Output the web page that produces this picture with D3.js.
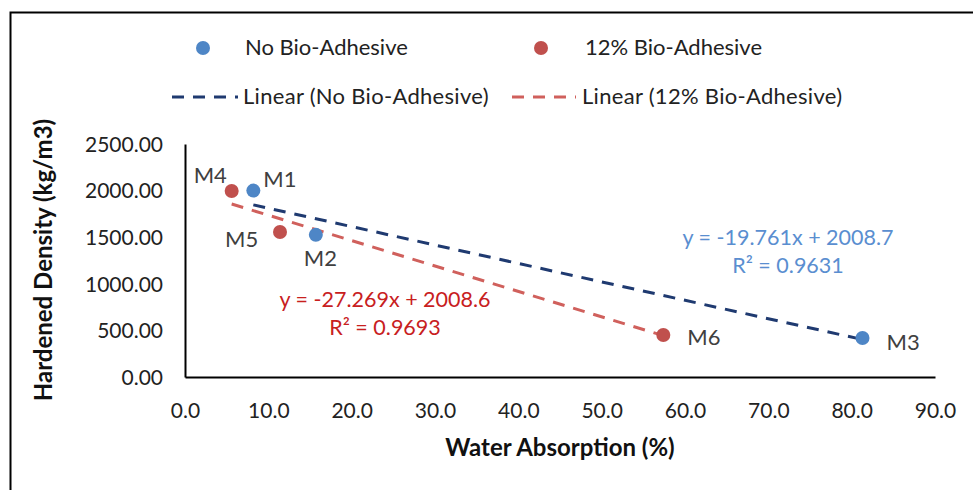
<!DOCTYPE html>
<html><head><meta charset="utf-8">
<script src="https://cdn.jsdelivr.net/npm/d3@7"></script>
<style>
body{margin:0;background:#fff;}
svg text{font-family:"Lato",sans-serif;}
</style></head>
<body><svg id="c" width="973" height="490"></svg>
<script>
// ---- data ----
const seriesNames = ["No Bio-Adhesive", "12% Bio-Adhesive"];
const trendNames = ["Linear (No Bio-Adhesive)", "Linear (12% Bio-Adhesive)"];
const noBioLabels = ["M1", "M2", "M3"];
const noBioX = [8.2, 15.7, 81.3];
const noBioY = [2000, 1525, 418];
const bioLabels = ["M4", "M5", "M6"];
const bioX = [5.6, 11.4, 57.4];
const bioY = [1995, 1555, 450];
const slopes = [-19.761, -27.269];
const intercepts = [2008.7, 2008.6];
const r2 = ["0.9631", "0.9693"];
const xTicks = [0,10,20,30,40,50,60,70,80,90];
const yTicks = [0,500,1000,1500,2000,2500];

const colors = {dotBlue:"#4e86c6", dotRed:"#c0504d", lineBlue:"#1f3a70", lineRed:"#d0605c",
  eqBlue:"#5a8ed0", eqRed:"#c8201e", text:"#404040"};
const FS = 22;

const svg = d3.select("#c");
// outer frame
svg.append("rect").attr("x",10.5).attr("y",12.5).attr("width",1000).attr("height",600)
  .attr("fill","none").attr("stroke","#000").attr("stroke-width",2);

const x = d3.scaleLinear().domain([0,90]).range([185,935]);
const y = d3.scaleLinear().domain([0,2500]).range([377,144]);

// axes
const xAxis = svg.append("g").attr("transform","translate(0,377)")
  .call(d3.axisBottom(x).tickValues(xTicks).tickSize(0).tickFormat(d3.format(".1f")));
const yAxis = svg.append("g").attr("transform","translate(185,0)")
  .call(d3.axisLeft(y).tickValues(yTicks).tickSize(0).tickFormat(d3.format(".2f")));
[xAxis,yAxis].forEach(g=>{
  g.select(".domain").attr("stroke","#000").attr("stroke-width",2);
  g.selectAll("text").attr("fill","#222").style("font-size","21px").style("font-family","Lato,sans-serif");
});
xAxis.selectAll("text").attr("y",0).attr("dy","41");
yAxis.selectAll("text").attr("x",-22).attr("dy","0.35em");

// axis titles
svg.append("text").attr("x",560).attr("y",456).attr("text-anchor","middle")
  .style("font-size","24px").style("font-weight","bold").attr("fill","#111")
  .text("Water Absorption (%)");
svg.append("text").attr("transform","translate(52,260) rotate(-90)").attr("text-anchor","middle")
  .style("font-size","24px").style("font-weight","bold").attr("fill","#111")
  .text("Hardened Density (kg/m3)");

// trendlines
function trend(xs, i, col){
  const x0 = d3.min(xs), x1 = d3.max(xs);
  svg.append("line").attr("x1",x(x0)).attr("y1",y(slopes[i]*x0+intercepts[i]))
    .attr("x2",x(x1)).attr("y2",y(slopes[i]*x1+intercepts[i]))
    .attr("stroke",col).attr("stroke-width",3).attr("stroke-dasharray","12,9");
}
trend(noBioX,0,colors.lineBlue);
trend(bioX,1,colors.lineRed);

// points
function pts(xs, ys, col){
  svg.append("g").selectAll("circle").data(xs.map((d,i)=>[d,ys[i]])).join("circle")
    .attr("cx",d=>x(d[0])).attr("cy",d=>y(d[1])).attr("r",7).attr("fill",col);
}
pts(bioX,bioY,colors.dotRed);
pts(noBioX,noBioY,colors.dotBlue);

// point labels (offsets are styling)
const labOffsets = {M1:[10,-4],M2:[-12,31],M3:[24,12],M4:[-38,-8],M5:[-55,15],M6:[24,10]};
function labs(names, xs, ys){
  names.forEach((n,i)=>{
    svg.append("text").attr("x",x(xs[i])+labOffsets[n][0]).attr("y",y(ys[i])+labOffsets[n][1])
      .style("font-size",FS+"px").attr("fill",colors.text).text(n);
  });
}
labs(noBioLabels,noBioX,noBioY);
labs(bioLabels,bioX,bioY);

// equations
function eq(i, cx, cy, col){
  const s = slopes[i].toFixed(3);
  svg.append("text").attr("x",cx).attr("y",cy).attr("text-anchor","middle")
    .style("font-size","21.5px").attr("fill",col)
    .text(`y = ${s}x + ${intercepts[i].toFixed(1)}`);
  svg.append("text").attr("x",cx).attr("y",cy+28).attr("text-anchor","middle")
    .style("font-size","21.5px").attr("fill",col)
    .text(`R² = ${r2[i]}`);
}
eq(0,788,245,colors.eqBlue);
eq(1,385,307,colors.eqRed);

// legend
const lg = svg.append("g");
lg.append("circle").attr("cx",203).attr("cy",48).attr("r",7).attr("fill",colors.dotBlue);
lg.append("text").attr("x",245).attr("y",55).style("font-size",FS+"px").attr("fill","#222").text(seriesNames[0]);
lg.append("circle").attr("cx",541).attr("cy",48).attr("r",7).attr("fill",colors.dotRed);
lg.append("text").attr("x",585).attr("y",55).style("font-size",FS+"px").attr("fill","#222").text(seriesNames[1]);
lg.append("line").attr("x1",172).attr("x2",238).attr("y1",97).attr("y2",97)
  .attr("stroke",colors.lineBlue).attr("stroke-width",3).attr("stroke-dasharray","12,9");
lg.append("text").attr("x",243).attr("y",104).style("font-size",FS+"px").style("letter-spacing","0.3px").attr("fill","#222").text(trendNames[0]);
lg.append("line").attr("x1",512).attr("x2",576).attr("y1",97).attr("y2",97)
  .attr("stroke",colors.lineRed).attr("stroke-width",3).attr("stroke-dasharray","12,9");
lg.append("text").attr("x",582).attr("y",104).style("font-size",FS+"px").style("letter-spacing","0.3px").attr("fill","#222").text(trendNames[1]);
</script></body></html>
